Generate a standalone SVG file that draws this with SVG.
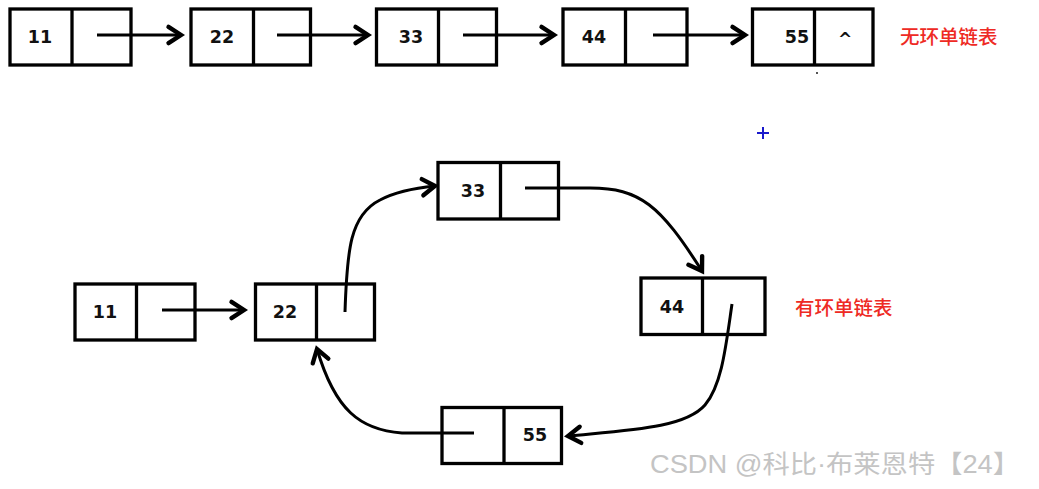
<svg xmlns="http://www.w3.org/2000/svg" width="1039" height="489" viewBox="0 0 1039 489">
<style>
.box{fill:#fff;stroke:#000;stroke-width:3.3}
.div{stroke:#000;stroke-width:3.3}
.num{font-family:"DejaVu Sans",Verdana,sans-serif;font-weight:bold;font-size:17.5px;fill:#111;text-anchor:middle}
.lbl{font-family:"Noto Sans CJK SC","Noto Sans",sans-serif;font-weight:500;font-size:19.5px;fill:#ee2a24}
.ed{fill:none;stroke:#000;stroke-width:3;marker-end:url(#ah)}
</style>
<defs>
<marker id="ah" markerUnits="userSpaceOnUse" markerWidth="20" markerHeight="20" viewBox="-12 -8 14 16" refX="0" refY="0" orient="auto" overflow="visible">
<path d="M-10,-6.5 L0,0 L-10,6.5" fill="none" stroke="#000" stroke-width="3.5" stroke-linejoin="miter" stroke-linecap="round"/>
</marker>
</defs>
<rect width="1039" height="489" fill="#fff"/>

<g id="top-n11"><rect class="box" x="10" y="9" width="121" height="56"/><line class="div" x1="72" y1="9" x2="72" y2="65"/><text class="num" x="40" y="43">11</text></g>
<g id="top-n22"><rect class="box" x="191" y="9" width="119.5" height="56"/><line class="div" x1="253.5" y1="9" x2="253.5" y2="65"/><text class="num" x="222" y="43">22</text></g>
<g id="top-n33"><rect class="box" x="376.5" y="9" width="120" height="56"/><line class="div" x1="438.5" y1="9" x2="438.5" y2="65"/><text class="num" x="411" y="43">33</text></g>
<g id="top-n44"><rect class="box" x="563" y="9" width="124" height="56"/><line class="div" x1="625.5" y1="9" x2="625.5" y2="65"/><text class="num" x="594" y="43">44</text></g>
<g id="top-n55"><rect class="box" x="752.5" y="9" width="120.5" height="56"/><line class="div" x1="814.5" y1="9" x2="814.5" y2="65"/><text class="num" x="797" y="43">55</text><text class="num" x="845" y="45" style="font-size:17px">^</text></g>
<g id="label-top"><text class="lbl" x="900" y="44">无环单链表</text></g>

<g id="bot-n11"><rect class="box" x="75" y="284" width="120" height="56"/><line class="div" x1="136.5" y1="284" x2="136.5" y2="340"/><text class="num" x="105" y="318">11</text></g>
<g id="bot-n22"><rect class="box" x="255.5" y="284" width="119" height="56"/><line class="div" x1="316.5" y1="284" x2="316.5" y2="340"/><text class="num" x="285" y="318">22</text></g>
<g id="bot-n33"><rect class="box" x="438" y="162.5" width="120.5" height="56.5"/><line class="div" x1="500.5" y1="162.5" x2="500.5" y2="219"/><text class="num" x="473" y="197">33</text></g>
<g id="bot-n44"><rect class="box" x="641" y="278" width="124" height="56.5"/><line class="div" x1="702.5" y1="278" x2="702.5" y2="334.5"/><text class="num" x="672" y="313">44</text></g>
<g id="bot-n55"><rect class="box" x="442" y="407.5" width="119.5" height="56"/><line class="div" x1="504" y1="407.5" x2="504" y2="463.5"/><text class="num" x="535" y="441">55</text></g>
<g id="label-bot"><text class="lbl" x="795" y="315">有环单链表</text></g>

<g id="connectors">
<path class="ed" d="M97,35 L181,35"/>
<path class="ed" d="M277,35 L368,35"/>
<path class="ed" d="M463,35 L554,35"/>
<path class="ed" d="M653,35 L745,35"/>
<path class="ed" d="M162,310 L244,310"/>
<path class="ed" d="M345,312 C347,250 350,215 380,200 C395,192 415,188 435,186"/>
<path class="ed" d="M525,188 L590,188 C640,188 660,205 702,271"/>
<path class="ed" d="M732,304 C726,345 722,385 705,405 C685,428 630,430 568,436"/>
<path class="ed" d="M474,433 L402,433 C360,430 335,410 317,349"/>
</g>

<g id="marks">
<rect x="816" y="72" width="2" height="2" fill="#555"/>
<path d="M763,127 V139 M757,133 H769" stroke="#1a1acc" stroke-width="2"/>
</g>

<g id="watermark"><text x="650" y="473" textLength="370" lengthAdjust="spacingAndGlyphs" style="font-family:'Liberation Sans','Noto Sans CJK SC',sans-serif;font-size:25px;fill:#c4c4c4">CSDN @科比·布莱恩特【24】</text></g>
</svg>
